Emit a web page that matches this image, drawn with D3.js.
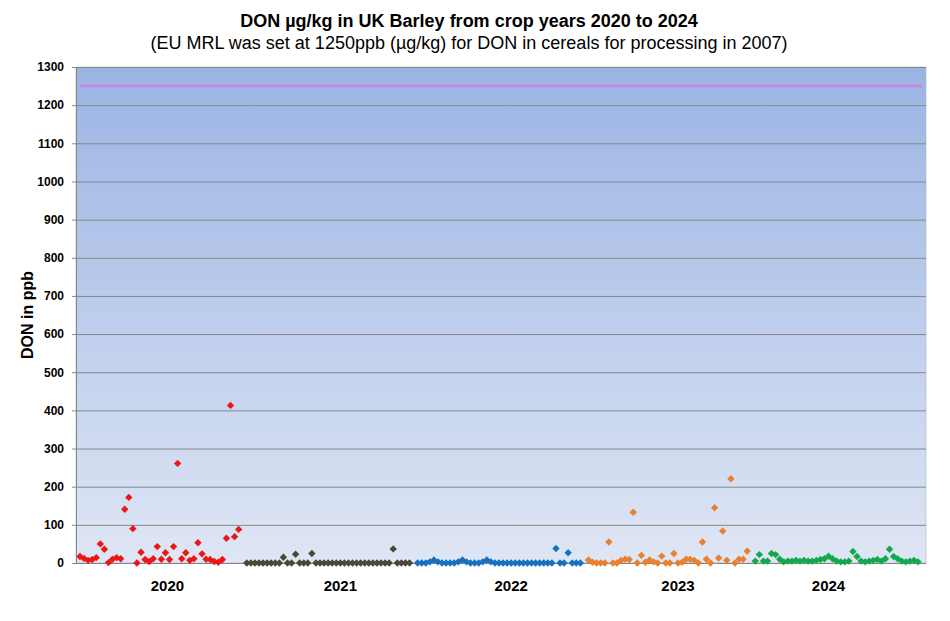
<!DOCTYPE html>
<html lang="en">
  <head>
    <meta charset="UTF-8" />
    <title>DON in UK Barley 2020-2024</title>
    <script src="https://d3js.org/d3.v7.min.js"></script>
    <style>
      body {
        margin: 0;
        background: #fff;
        font-family: "Liberation Sans", Arial, sans-serif;
      }
      svg {
        display: block;
      }
    </style>
  </head>
  <body>
    <svg id="chart" width="950" height="621"></svg>
    <script>
      // crop years, in plotting order
      const years = ["2020", "2021", "2022", "2023", "2024"];

      // DON results (ppb) per sample
      const don2020 = [17, 12, 7, 9, 14, 50, 36, 1, 10, 14, 11, 141, 172, 90, 0, 28, 9, 4, 11, 43,
        10, 27, 9, 43, 261, 11, 27, 7, 11, 53, 24, 10, 9, 4, 2, 9, 65, 413, 69, 88];
      const don2021 = [0, 0, 0, 0, 0, 0, 0, 0, 0, 15, 0, 0, 23, 0, 0, 0, 25, 0, 0, 0,
        0, 0, 0, 0, 0, 0, 0, 0, 0, 0, 0, 0, 0, 0, 0, 0, 37, 0, 0, 0, 0];
      const don2022 = [0, 0, 0, 3, 8, 3, 0, 0, 0, 0, 3, 8, 3, 0, 0, 0, 3, 8, 3, 0,
        0, 0, 0, 0, 0, 0, 0, 0, 0, 0, 0, 0, 0, 0, 38, 0, 0, 27, 0, 0, 0];
      const don2023 = [8, 2, 0, 0, 0, 55, 0, 0, 7, 10, 9, 133, 0, 20, 2, 8, 3, 0, 18, 0,
        0, 25, 0, 2, 10, 10, 7, 0, 55, 10, 0, 145, 13, 84, 7, 221, 0, 10, 10, 31];
      const don2024 = [5, 22, 5, 5, 25, 22, 10, 3, 5, 5, 7, 5, 7, 5, 5, 7, 9, 11, 18, 11,
        5, 3, 3, 5, 30, 17, 5, 3, 5, 7, 9, 5, 11, 36, 17, 11, 5, 3, 5, 7, 3];

      const seriesValues = [don2020, don2021, don2022, don2023, don2024];
      const seriesColors = ["#ee1515", "#4a4936", "#1771c0", "#e8802f", "#12a94c"];

      // category slot under which each year label sits
      const yearLabelSlot = [21.5, 64, 106, 147, 184];

      const yTicks = d3.range(0, 1301, 100);
      const mrl = 1250;

      const title = "DON µg/kg in UK Barley from crop years 2020 to 2024";
      const subtitle = "(EU MRL was set at 1250ppb (µg/kg) for DON in cereals for processing in 2007)";

      // one empty category between crop years
      const points = [];
      let slot = 0;
      seriesValues.forEach((vals, si) => {
        vals.forEach((v) => {
          points.push({ slot: slot, value: v, year: years[si], color: seriesColors[si] });
          slot++;
        });
        slot++;
      });
      const lastSlot = slot - 2;

      const width = 950;
      const height = 621;
      const margin = { top: 67, right: 24, bottom: 58, left: 76 };
      const plotW = width - margin.left - margin.right;
      const plotH = height - margin.top - margin.bottom;

      const svg = d3.select("#chart");

      const x = d3
        .scaleLinear()
        .domain([0, lastSlot])
        .range([margin.left + 4, margin.left + plotW - 8]);

      const y = d3
        .scaleLinear()
        .domain([0, 1300])
        .range([margin.top + plotH, margin.top]);

      // plot area gradient
      const defs = svg.append("defs");
      const grad = defs
        .append("linearGradient")
        .attr("id", "bg")
        .attr("x1", 0)
        .attr("y1", 0)
        .attr("x2", 0)
        .attr("y2", 1);
      grad.append("stop").attr("offset", "0%").attr("stop-color", "#9ab4e3");
      grad.append("stop").attr("offset", "100%").attr("stop-color", "#dfe6f5");

      svg
        .append("rect")
        .attr("x", margin.left)
        .attr("y", margin.top)
        .attr("width", plotW)
        .attr("height", plotH)
        .attr("fill", "url(#bg)")
        .attr("stroke", "#a9b3c6")
        .attr("stroke-width", 0.6);

      // gridlines
      svg
        .append("g")
        .selectAll("line")
        .data(yTicks.filter((d) => d > 0))
        .join("line")
        .attr("x1", margin.left)
        .attr("x2", margin.left + plotW)
        .attr("y1", (d) => y(d) + 0.5)
        .attr("y2", (d) => y(d) + 0.5)
        .attr("stroke", "#878787")
        .attr("stroke-width", 1);

      // y axis
      const yAxis = svg
        .append("g")
        .attr("transform", `translate(${margin.left},0)`)
        .call(
          d3
            .axisLeft(y)
            .tickValues(yTicks)
            .tickSize(4)
            .tickPadding(8)
            .tickFormat(d3.format("d"))
        );
      yAxis.select(".domain").attr("stroke", "#868686");
      yAxis.selectAll(".tick line").attr("stroke", "#868686");
      yAxis
        .selectAll(".tick text")
        .attr("fill", "#000")
        .style("font-family", "'Liberation Sans', Arial, sans-serif")
        .style("font-size", "12px")
        .style("font-weight", "bold");

      // baseline
      svg
        .append("line")
        .attr("x1", margin.left)
        .attr("x2", margin.left + plotW)
        .attr("y1", y(0) + 0.5)
        .attr("y2", y(0) + 0.5)
        .attr("stroke", "#868686");

      // EU MRL line
      svg
        .append("line")
        .attr("x1", x(0))
        .attr("x2", margin.left + plotW - 4)
        .attr("y1", y(mrl))
        .attr("y2", y(mrl))
        .attr("stroke", "#d47de9")
        .attr("stroke-width", 2.5);

      // diamonds
      const r = 3.7;
      svg
        .append("g")
        .selectAll("path")
        .data(points)
        .join("path")
        .attr("transform", (d) => `translate(${x(d.slot)},${y(d.value)})`)
        .attr("d", `M0,${-r}L${r},0L0,${r}L${-r},0Z`)
        .attr("fill", (d) => d.color);

      // year labels
      svg
        .append("g")
        .selectAll("text")
        .data(years)
        .join("text")
        .attr("x", (d, i) => x(yearLabelSlot[i]))
        .attr("y", y(0) + 28)
        .attr("text-anchor", "middle")
        .style("font-size", "15px")
        .style("font-weight", "bold")
        .text((d) => d);

      // y title
      svg
        .append("text")
        .attr("transform", `translate(33,${margin.top + plotH / 2}) rotate(-90)`)
        .attr("text-anchor", "middle")
        .style("font-size", "16px")
        .style("font-weight", "bold")
        .text("DON in ppb");

      // titles
      svg
        .append("text")
        .attr("x", 469)
        .attr("y", 27)
        .attr("text-anchor", "middle")
        .style("font-size", "18px")
        .style("font-weight", "bold")
        .text(title);

      svg
        .append("text")
        .attr("x", 469)
        .attr("y", 49)
        .attr("text-anchor", "middle")
        .style("font-size", "18px")
        .text(subtitle);
    </script>
  </body>
</html>
